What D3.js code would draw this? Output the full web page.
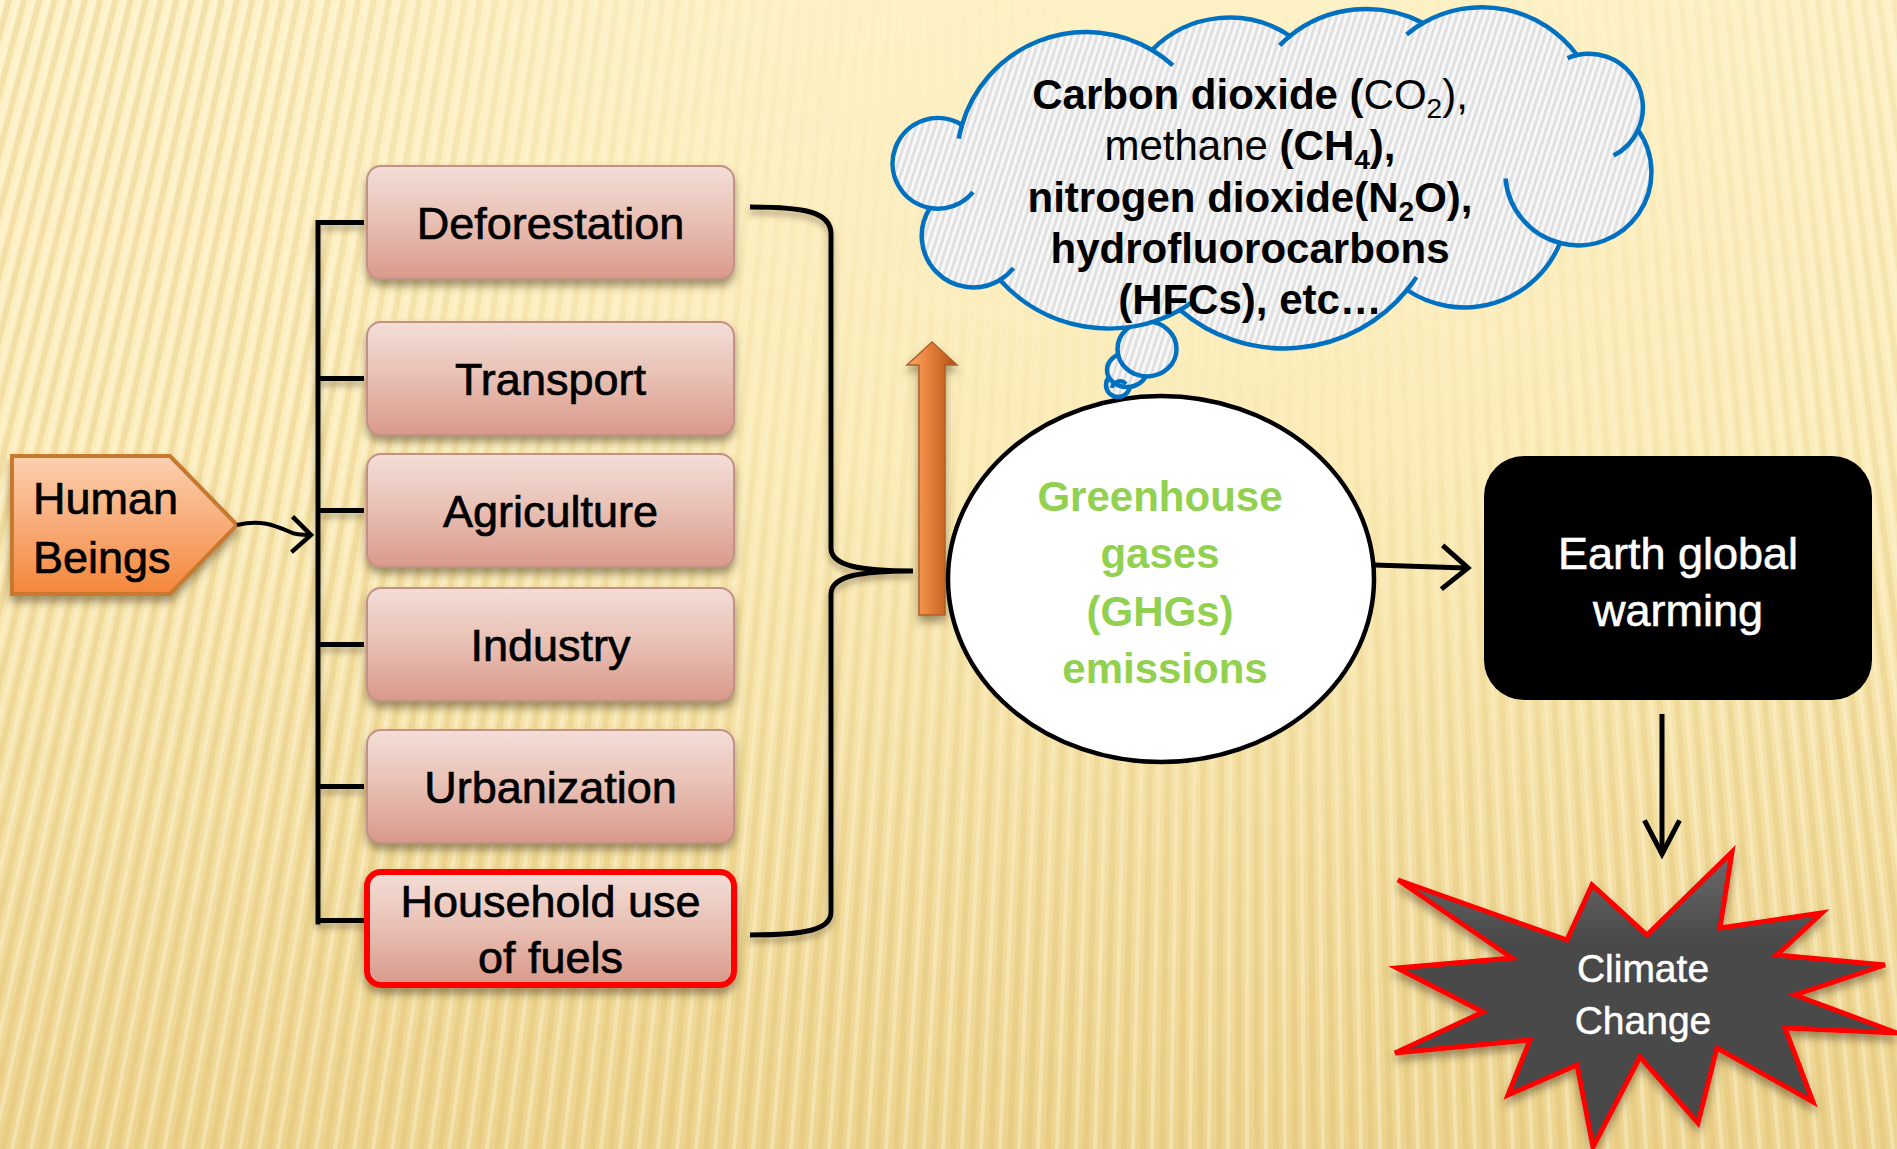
<!DOCTYPE html>
<html><head><meta charset="utf-8">
<script src="https://cdn.jsdelivr.net/npm/d3@7"></script>
<style>html,body{margin:0;padding:0;overflow:hidden;background:#fdf0c3}</style>
</head><body>
<svg id="c" width="1897" height="1149"></svg>
<script>
// ---------- data ----------
const sourceLabel = ["Human", "Beings"];
const categories = ["Deforestation", "Transport", "Agriculture", "Industry", "Urbanization", "Household use|of fuels"];
const highlighted = ["Household use|of fuels"];
const ghgLines = ["Greenhouse", "gases", "(GHGs)", "emissions"];
const effectLines = ["Earth global", "warming"];
const outcomeLines = ["Climate", "Change"];
// cloud text runs: [text, weight, subscript?]
const gasLine1 = [["Carbon dioxide (", 700], ["CO", 400], ["2", 400, 1], ["),", 400]];
const gasLine2 = [["methane ", 400], ["(CH", 700], ["4", 700, 1], ["),", 700]];
const gasLine3 = [["nitrogen dioxide(N", 700], ["2", 700, 1], ["O),", 700]];
const gasLine4 = [["hydrofluorocarbons", 700]];
const gasLine5 = [["(HFCs), etc\u2026", 700]];
const gasLines = [gasLine1, gasLine2, gasLine3, gasLine4, gasLine5];

// ---------- layout ----------
const W = 1897, H = 1149;
const FONT = "'Liberation Sans', Arial, sans-serif";
const svg = d3.select("#c");
const defs = svg.append("defs");

function lin(id, stops, x2, y2) {
  const g = defs.append("linearGradient").attr("id", id)
    .attr("x1", 0).attr("y1", 0).attr("x2", x2 || 0).attr("y2", y2 === undefined ? 1 : y2);
  stops.forEach(s => g.append("stop").attr("offset", s[0]).attr("stop-color", s[1]));
}
lin("bg", [[0, "#fdf1c6"], [0.4, "#fbecb9"], [1, "#edd48e"]]);
lin("boxG", [[0, "#f3ded7"], [0.5, "#e8bfb3"], [1, "#d9998a"]]);
lin("humanG", [[0, "#fbd0b0"], [0.55, "#f8a872"], [1, "#f4863a"]]);
lin("arrowG", [[0, "#f6a867"], [0.35, "#ec8a43"], [0.7, "#cf6a28"], [1, "#a94e17"]], 1, 0);
lin("starG", [[0, "#6a6a6a"], [0.3, "#4a4a4a"], [1, "#474747"]]);

const sh = defs.append("filter").attr("id", "shadow").attr("x", "-20%").attr("y", "-20%").attr("width", "140%").attr("height", "150%");
sh.append("feDropShadow").attr("dx", 0).attr("dy", 6).attr("stdDeviation", 4).attr("flood-color", "#5a4a2a").attr("flood-opacity", 0.55);
const lsh = defs.append("filter").attr("id", "lshadow").attr("filterUnits", "userSpaceOnUse")
  .attr("x", 0).attr("y", 0).attr("width", W).attr("height", H);
lsh.append("feDropShadow").attr("dx", 0).attr("dy", 5).attr("stdDeviation", 3).attr("flood-color", "#5a4a2a").attr("flood-opacity", 0.45);

const cp = defs.append("pattern").attr("id", "cloudP").attr("patternUnits", "userSpaceOnUse")
  .attr("width", 6).attr("height", 6).attr("patternTransform", "rotate(18)");
cp.append("rect").attr("width", 6).attr("height", 6).attr("fill", "#e0e0e0");
cp.append("rect").attr("width", 3).attr("height", 6).attr("fill", "#f8f8f8");

// fading mask for background stripes
const rg = defs.append("radialGradient").attr("id", "fadeR").attr("gradientUnits", "userSpaceOnUse")
  .attr("cx", 1200).attr("cy", 0).attr("r", 1300);
rg.append("stop").attr("offset", 0).attr("stop-color", "#000");
rg.append("stop").attr("offset", 0.3).attr("stop-color", "#181818");
rg.append("stop").attr("offset", 0.75).attr("stop-color", "#e0e0e0");
defs.append("mask").attr("id", "fadeM").append("rect").attr("width", W).attr("height", H).attr("fill", "url(#fadeR)");

// ---------- background ----------
svg.append("rect").attr("width", W).attr("height", H).attr("fill", "url(#bg)");
const vx = 1250, vy = -4600;
const stripeX = d3.range(-700, 2400, 19);
const sg = svg.append("g").attr("mask", "url(#fadeM)");
sg.selectAll("line.d").data(stripeX).join("line")
  .attr("x1", vx).attr("y1", vy).attr("x2", d => d).attr("y2", H)
  .attr("stroke", "#d9bb66").attr("stroke-opacity", 0.3).attr("stroke-width", 6);
sg.selectAll("line.l").data(stripeX).join("line")
  .attr("x1", vx + 9).attr("y1", vy).attr("x2", d => d + 9).attr("y2", H)
  .attr("stroke", "#fffbe8").attr("stroke-opacity", 0.4).attr("stroke-width", 4);

// ---------- left: Human Beings ----------
svg.append("path")
  .attr("d", "M12,456 L170,456 L237,525 L170,594 L12,594 Z")
  .attr("fill", "url(#humanG)").attr("stroke", "#c77a2f").attr("stroke-width", 4)
  .attr("filter", "url(#shadow)");
const hy = d3.scalePoint().domain(sourceLabel).range([498, 557]);
svg.selectAll("text.h").data(sourceLabel).join("text")
  .attr("x", 33).attr("y", d => hy(d)).attr("dy", "0.36em")
  .attr("font-family", FONT).attr("font-size", 45).attr("fill", "#000")
  .attr("stroke", "#000").attr("stroke-width", 0.7).text(d => d);

function chevron(tx, ty, ang, len, spread) {
  const a1 = ang + Math.PI - spread, a2 = ang + Math.PI + spread;
  return `M${tx + len * Math.cos(a1)},${ty + len * Math.sin(a1)} L${tx},${ty} L${tx + len * Math.cos(a2)},${ty + len * Math.sin(a2)}`;
}
svg.append("path").attr("d", "M237,525 C262,519 276,526 290,532 C296,535 302,535 310,535")
  .attr("fill", "none").attr("stroke", "#000").attr("stroke-width", 4);
svg.append("path").attr("d", chevron(311, 535, 0.03, 26, 0.75))
  .attr("fill", "none").attr("stroke", "#000").attr("stroke-width", 4.5).attr("stroke-linejoin", "miter");

// ---------- category boxes ----------
const boxY = d3.scaleOrdinal().domain(categories).range([166, 322, 454, 588, 730, 872]);
const boxX = 367, boxW = 367, boxH = 113;
const tickY = d => boxY(d) + boxH / 2 - (highlighted.includes(d) ? 8 : 0);
const busX = 318;
const bus = svg.append("g").attr("filter", "url(#lshadow)");
bus.append("line").attr("x1", busX).attr("x2", busX)
  .attr("y1", tickY(categories[0]) - 2.5).attr("y2", tickY(categories[categories.length - 1]) + 4)
  .attr("stroke", "#000").attr("stroke-width", 5);
bus.selectAll("line.t").data(categories).join("line")
  .attr("x1", busX).attr("x2", boxX - 3).attr("y1", tickY).attr("y2", tickY)
  .attr("stroke", "#000").attr("stroke-width", 5);

const bx = svg.selectAll("g.box").data(categories).join("g").attr("class", "box");
bx.append("rect").attr("x", boxX).attr("y", d => boxY(d)).attr("width", boxW).attr("height", boxH)
  .attr("rx", 14).attr("fill", "url(#boxG)")
  .attr("stroke", d => highlighted.includes(d) ? "#ff0000" : "#c39088")
  .attr("stroke-width", d => highlighted.includes(d) ? 6 : 2)
  .attr("filter", "url(#shadow)");
bx.each(function (d) {
  const lines = d.split("|");
  const g = d3.select(this);
  const cy = boxY(d) + boxH / 2;
  lines.forEach((ln, i) => {
    g.append("text").attr("x", boxX + boxW / 2).attr("y", cy + (i - (lines.length - 1) / 2) * 56)
      .attr("dy", "0.36em").attr("text-anchor", "middle")
      .attr("font-family", FONT).attr("font-size", 45).attr("fill", "#000")
      .attr("stroke", "#000").attr("stroke-width", 0.7).text(ln);
  });
});

// brace
svg.append("path")
  .attr("d", "M750,207 C805,207 831,212 831,234 L831,548 C831,566 860,571 913,571 C860,571 831,576 831,594 L831,912 C831,930 805,935 750,935")
  .attr("fill", "none").attr("stroke", "#000").attr("stroke-width", 5).attr("filter", "url(#lshadow)");

// orange up arrow
svg.append("path").attr("d", "M919,615 L919,365 L907,365 L932,342 L957,365 L945,365 L945,615 Z")
  .attr("fill", "url(#arrowG)").attr("stroke", "#b0602a").attr("stroke-width", 1.5).attr("filter", "url(#shadow)");

// ---------- GHG ellipse ----------
svg.append("ellipse").attr("cx", 1161).attr("cy", 579).attr("rx", 213).attr("ry", 183)
  .attr("fill", "#fff").attr("stroke", "#000").attr("stroke-width", 4.5);
const gy = d3.scalePoint().domain(ghgLines).range([496, 668]);
svg.selectAll("text.g").data(ghgLines).join("text")
  .attr("x", (d, i) => i === 3 ? 1165 : 1160).attr("y", d => gy(d)).attr("dy", "0.36em")
  .attr("text-anchor", "middle").attr("font-family", FONT).attr("font-weight", 700)
  .attr("font-size", 42).attr("fill", "#92d050").text(d => d);

// arrow to Earth global warming
svg.append("line").attr("x1", 1374).attr("y1", 565).attr("x2", 1466).attr("y2", 568)
  .attr("stroke", "#000").attr("stroke-width", 5);
svg.append("path").attr("d", chevron(1468, 568, 0.03, 34, 0.7))
  .attr("fill", "none").attr("stroke", "#000").attr("stroke-width", 5);

// ---------- Earth global warming box ----------
svg.append("rect").attr("x", 1484).attr("y", 456).attr("width", 388).attr("height", 244).attr("rx", 40)
  .attr("fill", "#000");
const ey = d3.scalePoint().domain(effectLines).range([553, 610]);
svg.selectAll("text.e").data(effectLines).join("text")
  .attr("x", 1678).attr("y", d => ey(d)).attr("dy", "0.36em").attr("text-anchor", "middle")
  .attr("font-family", FONT).attr("font-size", 45).attr("fill", "#fff")
  .attr("stroke", "#fff").attr("stroke-width", 0.6).text(d => d);

// down arrow
svg.append("line").attr("x1", 1662).attr("y1", 714).attr("x2", 1662).attr("y2", 852)
  .attr("stroke", "#000").attr("stroke-width", 5);
svg.append("path").attr("d", chevron(1662, 854, Math.PI / 2, 38, 0.48))
  .attr("fill", "none").attr("stroke", "#000").attr("stroke-width", 5);

// ---------- star ----------
const starPts = [[1398, 880], [1567, 940], [1592, 885], [1647, 935], [1732, 852], [1720, 928], [1822, 913],
  [1777, 955], [1885, 965], [1795, 995], [1897, 1033], [1785, 1028], [1813, 1102], [1717, 1048],
  [1698, 1123], [1640, 1057], [1593, 1147], [1577, 1065], [1508, 1095], [1530, 1040], [1395, 1053],
  [1483, 1012], [1397, 968], [1512, 958]];
svg.append("path").attr("d", d3.line()(starPts) + "Z")
  .attr("fill", "url(#starG)").attr("stroke", "#ff0000").attr("stroke-width", 5)
  .attr("stroke-linejoin", "miter").attr("filter", "url(#shadow)");
const sy = d3.scalePoint().domain(outcomeLines).range([968, 1020]);
svg.selectAll("text.s").data(outcomeLines).join("text")
  .attr("x", 1643).attr("y", d => sy(d)).attr("dy", "0.36em").attr("text-anchor", "middle")
  .attr("font-family", FONT).attr("font-size", 39).attr("fill", "#fff")
  .attr("stroke", "#fff").attr("stroke-width", 0.5).text(d => d);

// ---------- cloud ----------
// valleys (clockwise) and bump depth of the bump that starts at each valley
const cloudPts = [[962, 125], [1152, 50], [1290, 36], [1423, 23], [1577, 55], [1638, 130], [1560, 243],
  [1407, 290], [1180, 310], [1000, 280], [930, 208]];
const cloudSag = [50, 25, 20, 30, 30, 48, 38, 48, 32, 40, 54];
// inner arc extensions: [bump index, "back"|"fwd", length px]
const innerArcs = [[0, "back", 14], [0, "fwd", 26], [2, "back", 14], [3, "back", 20], [4, "back", 10],
  [4, "fwd", 36], [5, "fwd", 90], [7, "back", 16], [8, "back", 16], [9, "back", 18], [10, "back", 48]];
const bumps = cloudPts.map((p, i) => {
  const q = cloudPts[(i + 1) % cloudPts.length];
  const c = Math.hypot(q[0] - p[0], q[1] - p[1]), s = cloudSag[i];
  const r = (c * c / 4 + s * s) / (2 * s);
  const tx = (q[0] - p[0]) / c, ty = (q[1] - p[1]) / c;
  const nx = -ty, ny = tx; // inward normal
  const mx = (p[0] + q[0]) / 2, my = (p[1] + q[1]) / 2;
  const cx = mx + nx * (r - s), cy = my + ny * (r - s);
  return {p, q, r, large: s > c / 2 ? 1 : 0, cx, cy,
    a0: Math.atan2(p[1] - cy, p[0] - cx), a1: Math.atan2(q[1] - cy, q[0] - cx)};
});
let cd = `M${cloudPts[0][0]},${cloudPts[0][1]}`;
bumps.forEach(b => { cd += ` A${b.r},${b.r} 0 ${b.large} 1 ${b.q[0]},${b.q[1]}`; });
cd += "Z";
const cloud = svg.append("g");
[[1118, 385, 12, 12], [1127, 370, 20, 17], [1147, 349, 29.5, 27.5]].forEach(b => {
  cloud.append("ellipse").attr("cx", b[0]).attr("cy", b[1]).attr("rx", b[2]).attr("ry", b[3])
    .attr("fill", "url(#cloudP)").attr("stroke", "#0070c0").attr("stroke-width", 4.5);
});
cloud.append("path").attr("d", "M1112,388 A8,8 0 0 1 1126,384").attr("fill", "none")
  .attr("stroke", "#0070c0").attr("stroke-width", 4);
cloud.append("path").attr("d", cd).attr("fill", "url(#cloudP)").attr("stroke", "#0070c0").attr("stroke-width", 4.5);
innerArcs.forEach(([i, dir, len]) => {
  const b = bumps[i], da = len / b.r;
  const s = dir === "back" ? b.a0 - da : b.a1, e = dir === "back" ? b.a0 : b.a1 + da;
  const path = d3.path();
  path.arc(b.cx, b.cy, b.r, s, e, false);
  cloud.append("path").attr("d", path.toString()).attr("fill", "none")
    .attr("stroke", "#0070c0").attr("stroke-width", 4.5);
});
const gl = d3.scalePoint().domain(d3.range(gasLines.length)).range([94, 299]);
gasLines.forEach((runs, i) => {
  const t = svg.append("text").attr("x", 1250).attr("y", gl(i)).attr("dy", "0.36em")
    .attr("text-anchor", "middle").attr("font-family", FONT).attr("font-size", 42).attr("fill", "#000");
  runs.forEach((r, k) => {
    const ts = t.append("tspan").attr("font-weight", r[1]).text(r[0]);
    if (r[2]) ts.attr("font-size", 28).attr("dy", 9);
    else if (k > 0 && runs[k - 1][2]) ts.attr("dy", -9);
  });
});
</script>
</body></html>
